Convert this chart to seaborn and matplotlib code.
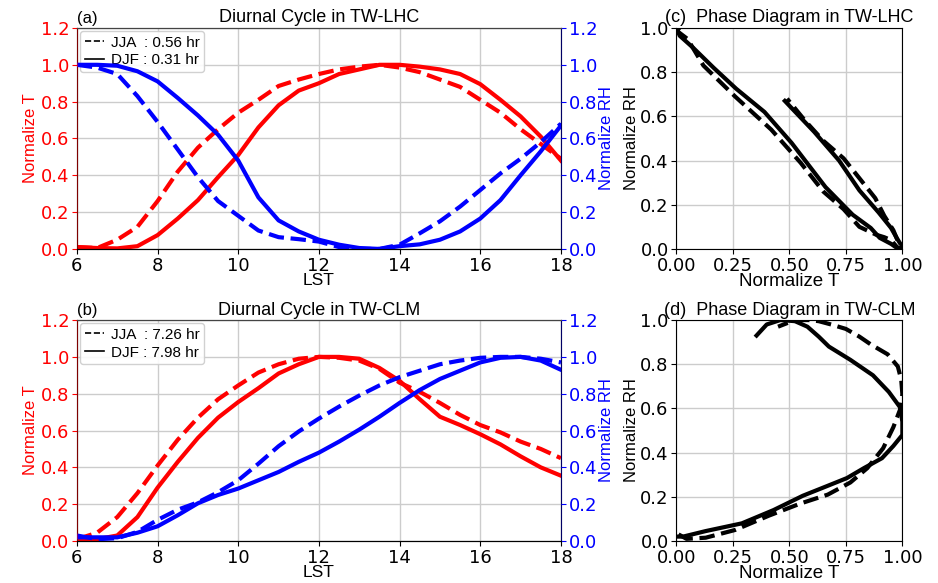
import numpy as np
import pandas as pd
import matplotlib
matplotlib.use("Agg")
import matplotlib.pyplot as plt
from matplotlib.lines import Line2D
import seaborn as sns

# ======================
# datos
# ======================
lst = [6, 6.5, 7, 7.5, 8, 8.5, 9, 9.5, 10, 10.5, 11, 11.5, 12,
       12.5, 13, 13.5, 14, 14.5, 15, 15.5, 16, 16.5, 17, 17.5, 18]

# TW-LHC
lhc_t_jja = [0.01, 0.005, 0.05, 0.12, 0.26, 0.42, 0.55, 0.65, 0.74, 0.81, 0.885, 0.92, 0.95,
             0.975, 0.99, 1.00, 0.985, 0.96, 0.92, 0.88, 0.81, 0.74, 0.65, 0.57, 0.49]
lhc_t_djf = [0.01, 0.005, 0.003, 0.015, 0.075, 0.165, 0.265, 0.39, 0.51, 0.66, 0.78, 0.86, 0.90,
             0.95, 0.975, 1.00, 1.00, 0.99, 0.975, 0.95, 0.895, 0.81, 0.72, 0.61, 0.48]
lhc_rh_jja = [1.00, 0.985, 0.95, 0.83, 0.69, 0.54, 0.39, 0.26, 0.18, 0.10, 0.064, 0.053, 0.04,
              0.01, 0.00, 0.00, 0.023, 0.085, 0.15, 0.23, 0.32, 0.41, 0.49, 0.58, 0.68]
lhc_rh_djf = [1.00, 1.00, 0.995, 0.965, 0.91, 0.82, 0.725, 0.62, 0.48, 0.28, 0.155, 0.095, 0.05,
              0.023, 0.005, 0.00, 0.015, 0.025, 0.05, 0.095, 0.165, 0.265, 0.40, 0.53, 0.67]

# TW-CLM
clm_t_jja = [0.01, 0.045, 0.13, 0.26, 0.41, 0.55, 0.67, 0.77, 0.845, 0.915, 0.96, 0.99, 1.00,
             0.995, 0.98, 0.935, 0.86, 0.81, 0.75, 0.685, 0.63, 0.59, 0.54, 0.50, 0.45]
clm_t_djf = [0.005, 0.01, 0.03, 0.13, 0.29, 0.43, 0.56, 0.67, 0.755, 0.83, 0.91, 0.96, 1.00,
             1.00, 0.99, 0.94, 0.87, 0.77, 0.675, 0.63, 0.58, 0.525, 0.46, 0.40, 0.355]
clm_rh_jja = [0.03, 0.01, 0.015, 0.05, 0.115, 0.17, 0.21, 0.265, 0.33, 0.42, 0.515, 0.595, 0.665,
              0.73, 0.79, 0.845, 0.89, 0.925, 0.96, 0.98, 0.995, 1.00, 1.00, 0.99, 0.97]
clm_rh_djf = [0.02, 0.02, 0.02, 0.045, 0.08, 0.14, 0.205, 0.25, 0.285, 0.33, 0.375, 0.43, 0.48,
              0.54, 0.605, 0.675, 0.75, 0.82, 0.88, 0.925, 0.97, 0.995, 1.00, 0.98, 0.93]

paneles = [
    {"etiqueta": "(a)", "region": "TW-LHC", "fase": "(c)",
     "t_jja": lhc_t_jja, "t_djf": lhc_t_djf, "rh_jja": lhc_rh_jja, "rh_djf": lhc_rh_djf,
     "leyenda": ["JJA  : 0.56 hr", "DJF : 0.31 hr"]},
    {"etiqueta": "(b)", "region": "TW-CLM", "fase": "(d)",
     "t_jja": clm_t_jja, "t_djf": clm_t_djf, "rh_jja": clm_rh_jja, "rh_djf": clm_rh_djf,
     "leyenda": ["JJA  : 7.26 hr", "DJF : 7.98 hr"]},
]

LW = 3.0
FS_TICK = 13
FS_LAB = 12
FS_TIT = 13
TXT = ["Liberation Sans", "DejaVu Sans"]
grid_kw = dict(color="#cccccc", linewidth=1.0)

fig = plt.figure(figsize=(9.38, 5.83), dpi=100)

filas = [(0.573, 0.379), (0.072, 0.379)]

for p, (y0, h) in zip(paneles, filas):
    df = pd.DataFrame({"LST": lst, "t_jja": p["t_jja"], "t_djf": p["t_djf"],
                       "rh_jja": p["rh_jja"], "rh_djf": p["rh_djf"]})

    # --- ciclo diurno ---
    ax = fig.add_axes([0.082, y0, 0.516, h])
    ax2 = ax.twinx()
    sns.lineplot(data=df, x="LST", y="t_jja", ax=ax, color="red", lw=LW, linestyle="--")
    sns.lineplot(data=df, x="LST", y="t_djf", ax=ax, color="red", lw=LW)
    sns.lineplot(data=df, x="LST", y="rh_jja", ax=ax2, color="blue", lw=LW, linestyle="--")
    sns.lineplot(data=df, x="LST", y="rh_djf", ax=ax2, color="blue", lw=LW)

    for a in (ax, ax2):
        a.set_xlim(6, 18)
        a.set_ylim(0, 1.2)
        a.set_yticks(np.arange(0, 1.21, 0.2))
        a.set_yticklabels([f"{v:.1f}" for v in np.arange(0, 1.21, 0.2)])
    ax.set_xticks([6, 8, 10, 12, 14, 16, 18])
    ax.grid(True, **grid_kw)
    ax.set_axisbelow(True)
    ax.tick_params(axis="y", colors="red", labelsize=FS_TICK, pad=2)
    ax.tick_params(axis="x", labelsize=FS_TICK, pad=2)
    ax2.tick_params(axis="y", colors="blue", labelsize=FS_TICK, pad=2)
    ax.set_ylabel("Normalize T", color="red", fontsize=FS_LAB, labelpad=2, family=TXT)
    ax2.set_ylabel("Normalize RH", color="blue", fontsize=FS_LAB, labelpad=1, family=TXT)
    ax.set_xlabel("LST", fontsize=12.5, labelpad=-1, family=TXT)
    ax2.spines["left"].set_color((1, 0, 0, 0.5))
    ax2.spines["right"].set_color((0, 0, 1, 0.4))
    ax2.spines["top"].set_color("#444444")
    ax.set_title("Diurnal Cycle in " + p["region"], fontsize=FS_TIT, pad=4, family=TXT)
    ax.text(0.0, 1.01, p["etiqueta"], transform=ax.transAxes, fontsize=FS_LAB,
            ha="left", va="bottom", family=TXT)
    handles = [Line2D([], [], color="black", lw=1.2, linestyle="--"),
               Line2D([], [], color="black", lw=1.2)]
    ax.legend(handles, p["leyenda"], loc="upper left", handlelength=1.3,
              handletextpad=0.4, borderpad=0.3, labelspacing=0.25,
              borderaxespad=0.2, framealpha=0.9,
              prop={"family": TXT, "size": 11})

    # --- diagrama de fase ---
    axp = fig.add_axes([0.721, y0, 0.241, h])
    sns.lineplot(data=df, x="t_jja", y="rh_jja", ax=axp, color="black", lw=LW,
                 linestyle="--", sort=False, estimator=None)
    sns.lineplot(data=df, x="t_djf", y="rh_djf", ax=axp, color="black", lw=LW,
                 sort=False, estimator=None)
    axp.set_xlim(0, 1)
    axp.set_ylim(0, 1)
    axp.set_xticks([0, 0.25, 0.5, 0.75, 1.0])
    axp.set_xticklabels(["0.00", "0.25", "0.50", "0.75", "1.00"])
    axp.set_yticks(np.arange(0, 1.01, 0.2))
    axp.set_yticklabels([f"{v:.1f}" for v in np.arange(0, 1.01, 0.2)])
    axp.tick_params(labelsize=FS_TICK, pad=2)
    axp.grid(True, **grid_kw)
    axp.set_axisbelow(True)
    axp.set_xlabel("Normalize T", fontsize=13.5, labelpad=-1, family=TXT)
    axp.set_ylabel("Normalize RH", fontsize=FS_LAB, labelpad=1, family=TXT)
    axp.set_title(p["fase"] + "  Phase Diagram in " + p["region"], fontsize=FS_TIT,
                  pad=4, family=TXT)

fig.savefig("out.png", dpi=100)
